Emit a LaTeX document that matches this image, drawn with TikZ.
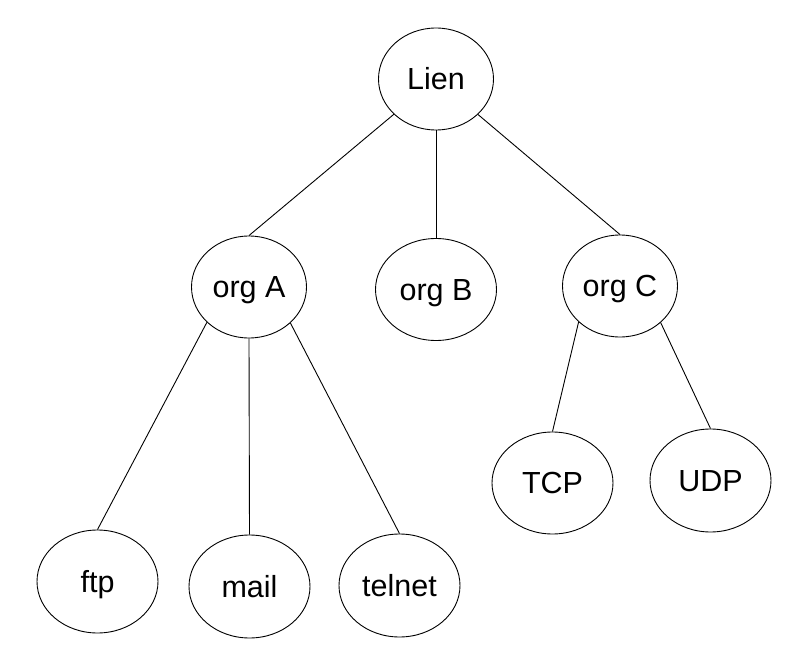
\documentclass[tikz,border=0pt]{standalone}
\usepackage{fontspec}
\setmainfont{Liberation Sans}
\usetikzlibrary{shapes.geometric}
\begin{document}
\begin{tikzpicture}[x=1pt,y=-1pt,
  tnode/.style={ellipse,draw,line width=0.9pt,inner sep=0pt,
    minimum width=115pt,minimum height=102pt,
    font=\fontsize{30.5}{36}\selectfont,text height=21.8pt,text depth=0pt},
  wnode/.style={tnode,minimum width=121pt,minimum height=103pt},
  edge/.style={line width=0.9pt}]
\useasboundingbox (0,0) rectangle (804,658);
\node[tnode] (Lien) at (436,79) {Lien};
\node[tnode] (orgA) at (249,287) {org A};
\node[wnode,minimum height=102pt] (orgB) at (436,289.5) {org B};
\node[tnode] (orgC) at (620,286) {org C};
\node[wnode] (ftp) at (97.5,581.5) {ftp};
\node[wnode] (mail) at (249.5,586.5) {mail};
\node[wnode] (telnet) at (399.5,585.5) {telnet};
\node[wnode,minimum height=102pt] (TCP) at (552.5,483) {TCP};
\node[wnode] (UDP) at (710.5,480.5) {UDP};
\draw[edge] (Lien) -- (orgA.north);
\draw[edge] (Lien.south) -- (orgB.north);
\draw[edge] (Lien) -- (orgC.north);
\draw[edge] (orgA.220) -- (ftp.north);
\draw[edge] (orgA.south) -- (mail.north);
\draw[edge] (orgA.319) -- (telnet.north);
\draw[edge] (orgC.221) -- (TCP.north);
\draw[edge] (orgC.318) -- (UDP.north);
\end{tikzpicture}
\end{document}
